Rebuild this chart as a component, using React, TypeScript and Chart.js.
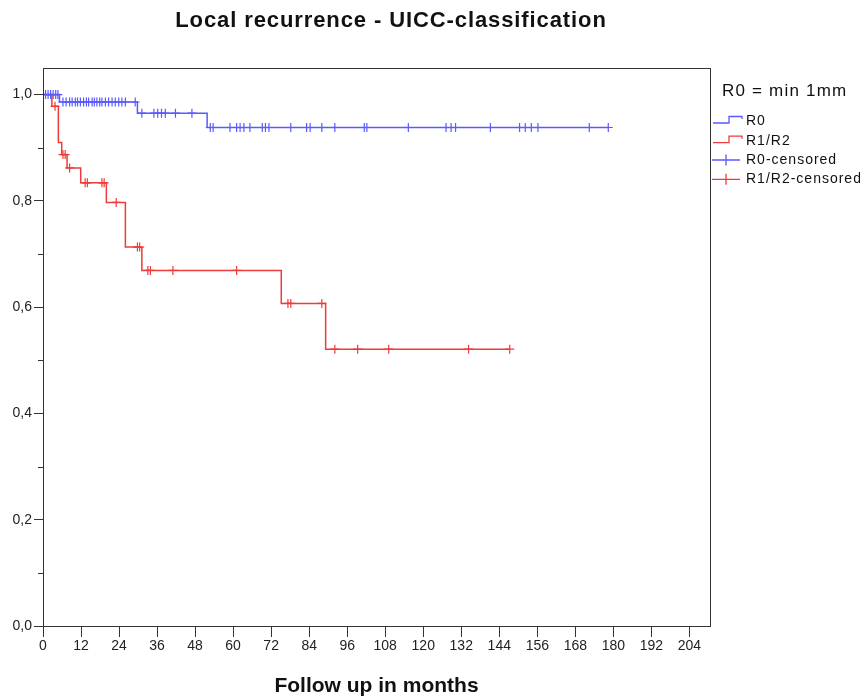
import { useEffect, useRef } from 'react';
import { Chart, registerables } from 'chart.js';

Chart.register(...registerables);

const FONT = "'Liberation Sans', Arial, sans-serif";

const TITLE = 'Local recurrence - UICC-classification';
const X_TITLE = 'Follow up in months';
const LEGEND_TITLE = 'R0 = min 1mm';
const SERIES_NAMES = ['R0', 'R1/R2', 'R0-censored', 'R1/R2-censored'];

const X_MAX = 210.5;
const X_TICK_STEP = 12;
const Y_MAX = 1.05;
const Y_TICK_STEP = 0.2;
const Y_MINOR_TICKS = [0.1, 0.3, 0.5, 0.7, 0.9];

// Kaplan-Meier step points: R0
const r0StepTimes = [0, 5.2, 29.8, 51.8, 178.4];
const r0StepValues = [1, 0.986, 0.965, 0.938, 0.938];
const r0CensoredTimes = [
  0.8, 1.6, 2.4, 3.2, 4.0, 4.7,
  6.3, 7.3, 8.4, 9.2, 10.2, 10.9, 11.8, 12.8, 13.7, 14.4, 15.5, 16.2, 17.0, 17.9, 18.6, 19.7, 20.7, 21.8, 22.8, 23.9, 24.9, 26.0, 29.1,
  31.2, 35.0, 36.2, 37.4, 38.6, 41.8, 47.0,
  52.8, 53.7, 59.0, 61.1, 62.2, 63.4, 65.3, 69.2, 70.2, 71.3, 78.2, 83.2, 84.3, 88.0, 92.1, 101.4, 102.2, 115.3, 127.2, 128.8, 130.2, 141.2, 150.4, 152.2, 154.1, 156.2, 172.4, 178.4,
];

// Kaplan-Meier step points: R1/R2
const r12StepTimes = [0, 2.8, 4.85, 5.9, 7.6, 11.9, 20.0, 26.0, 31.2, 75.2, 89.2, 147.3];
const r12StepValues = [1, 0.978, 0.91, 0.887, 0.862, 0.834, 0.797, 0.713, 0.669, 0.607, 0.521, 0.521];
const r12CensoredTimes = [
  3.8, 6.3, 7.0, 8.4, 13.3, 14.0, 18.6, 19.3, 23.1, 29.8, 30.5, 33.1, 33.9, 41.0, 61.1, 77.3, 78.2, 88.0, 92.1, 99.3, 109.1, 134.3, 147.3,
];

const BLUE = '#5a5aff';
const RED = '#ef3b3b';

function survivalAt(times: number[], values: number[], t: number) {
  let v = values[0];
  for (let i = 0; i < times.length; i++) if (times[i] <= t) v = values[i];
  return v;
}

const decorations = {
  id: 'decorations',
  afterDraw(chart: any) {
    const { ctx, chartArea: a, scales } = chart;
    ctx.save();
    // frame
    ctx.strokeStyle = '#333';
    ctx.lineWidth = 1;
    ctx.strokeRect(Math.round(a.left) + 0.5, Math.round(a.top) + 0.5, Math.round(a.right - a.left), Math.round(a.bottom - a.top));
    // minor y ticks
    Y_MINOR_TICKS.forEach((v) => {
      const y = Math.round(scales.y.getPixelForValue(v)) + 0.5;
      ctx.beginPath();
      ctx.moveTo(a.left - 5, y);
      ctx.lineTo(a.left, y);
      ctx.stroke();
    });
    // main title
    ctx.fillStyle = '#111';
    ctx.textBaseline = 'middle';
    ctx.textAlign = 'center';
    ctx.font = `bold 22px ${FONT}`;
    (ctx as any).letterSpacing = '0.9px';
    ctx.fillText(TITLE, 383, 13);
    // legend
    ctx.textAlign = 'left';
    ctx.font = `17px ${FONT}`;
    (ctx as any).letterSpacing = '1.2px';
    ctx.fillText(LEGEND_TITLE, 714, 83);
    ctx.font = `14px ${FONT}`;
    (ctx as any).letterSpacing = '1px';
    const rows = [113, 132.7, 152, 171.3];
    const colors = [BLUE, RED, BLUE, RED];
    rows.forEach((cy, i) => {
      ctx.fillStyle = '#111';
      ctx.fillText(SERIES_NAMES[i], 738, cy);
      ctx.strokeStyle = colors[i];
      ctx.lineWidth = 1.3;
      ctx.beginPath();
      if (i < 2) {
        ctx.moveTo(705, cy + 2);
        ctx.lineTo(721, cy + 2);
        ctx.lineTo(721, cy - 4.5);
        ctx.lineTo(734, cy - 4.5);
        ctx.lineTo(734, cy - 2);
      } else {
        ctx.moveTo(704, cy);
        ctx.lineTo(732, cy);
        ctx.moveTo(718, cy - 5.5);
        ctx.lineTo(718, cy + 5.5);
      }
      ctx.stroke();
    });
    ctx.restore();
  },
};

export default function App() {
  const ref = useRef<HTMLCanvasElement | null>(null);

  useEffect(() => {
    if (!ref.current) return;
    const r0Line = r0StepTimes.map((t, i) => ({ x: t, y: r0StepValues[i] }));
    const r12Line = r12StepTimes.map((t, i) => ({ x: t, y: r12StepValues[i] }));
    const r0Cens = r0CensoredTimes.map((t) => ({ x: t, y: survivalAt(r0StepTimes, r0StepValues, t) }));
    const r12Cens = r12CensoredTimes.map((t) => ({ x: t, y: survivalAt(r12StepTimes, r12StepValues, t) }));

    const chart = new Chart(ref.current, {
      type: 'line',
      data: {
        datasets: [
          { label: SERIES_NAMES[0], data: r0Line, stepped: 'before', borderColor: BLUE, borderWidth: 1.5, pointRadius: 0, fill: false },
          { label: SERIES_NAMES[1], data: r12Line, stepped: 'before', borderColor: RED, borderWidth: 1.5, pointRadius: 0, fill: false },
          { label: SERIES_NAMES[2], data: r0Cens, showLine: false, pointStyle: 'cross', pointRadius: 4.5, pointBorderWidth: 1.2, borderColor: BLUE, pointBorderColor: BLUE },
          { label: SERIES_NAMES[3], data: r12Cens, showLine: false, pointStyle: 'cross', pointRadius: 4.5, pointBorderWidth: 1.2, borderColor: RED, pointBorderColor: RED },
        ],
      } as any,
      options: {
        animation: false,
        responsive: false,
        events: [],
        layout: { padding: { left: 0, right: 150, top: 60, bottom: 0 } },
        plugins: { legend: { display: false }, title: { display: false }, tooltip: { enabled: false } },
        scales: {
          x: {
            type: 'linear',
            min: 0,
            max: X_MAX,
            ticks: {
              stepSize: X_TICK_STEP,
              includeBounds: false,
              autoSkip: false,
              maxRotation: 0,
              padding: 1,
              color: '#222',
              font: { size: 14, family: FONT },
              callback: (v: any) => String(v),
            },
            grid: { drawOnChartArea: false, drawTicks: true, tickLength: 11, tickColor: '#333', tickWidth: 1 },
            border: { display: false },
            title: { display: true, text: X_TITLE, color: '#111', font: { size: 21, weight: 'bold', family: FONT }, padding: { top: 0, bottom: 0 } },
            afterFit: (s: any) => { s.height = 73; },
          },
          y: {
            type: 'linear',
            min: 0,
            max: Y_MAX,
            ticks: {
              stepSize: Y_TICK_STEP,
              includeBounds: false,
              padding: 2,
              color: '#222',
              font: { size: 14, family: FONT },
              callback: (v: any) => Number(v).toFixed(1).replace('.', ','),
            },
            grid: { drawOnChartArea: false, drawTicks: true, tickLength: 9, tickColor: '#333', tickWidth: 1 },
            border: { display: false },
            afterFit: (s: any) => { s.width = 35; },
          },
        },
      } as any,
      plugins: [decorations],
    });
    return () => chart.destroy();
  }, []);

  return (
    <div style={{ width: 852, height: 691 }}>
      <canvas ref={ref} width={852} height={691} style={{ display: 'block' }} />
    </div>
  );
}
